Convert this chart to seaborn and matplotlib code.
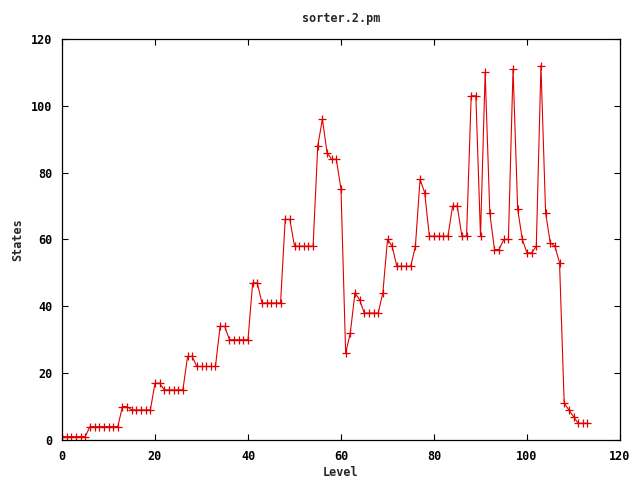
import matplotlib
matplotlib.use('Agg')
import matplotlib.pyplot as plt
import pandas as pd
import seaborn as sns

# Number of states per level
levels = list(range(0, 114))
states = [
    1, 1, 1, 1, 1, 1,                      # 0-5
    4, 4, 4, 4, 4, 4, 4,                   # 6-12
    10, 10, 9, 9, 9, 9, 9,                 # 13-19
    17, 17, 15, 15, 15, 15, 15,            # 20-26
    25, 25, 22, 22, 22, 22, 22,            # 27-33
    34, 34, 30, 30, 30, 30, 30,            # 34-40
    47, 47, 41, 41, 41, 41, 41,            # 41-47
    66, 66, 58, 58, 58, 58, 58,            # 48-54
    88, 96, 86, 84, 84, 75, 26,            # 55-61
    32, 44, 42, 38, 38, 38, 38,            # 62-68
    44, 60, 58, 52, 52, 52, 52,            # 69-75
    58, 78, 74, 61, 61, 61, 61,            # 76-82
    61, 70, 70, 61, 61, 103, 103,          # 83-89
    61, 110, 68, 57, 57, 60, 60,           # 90-96
    111, 69, 60, 56, 56, 58, 112,          # 97-103
    68, 59, 58, 53, 11, 9, 7,              # 104-110
    5, 5, 5,                               # 111-113
]

df = pd.DataFrame({'Level': levels, 'States': states})

sns.set_style('ticks')
plt.rcParams['font.family'] = ['DejaVu Sans Mono']
plt.rcParams['font.weight'] = 'bold'
plt.rcParams['font.size'] = 8.5

fig = plt.figure(figsize=(6.4, 4.8), dpi=100)
ax = fig.add_axes([62 / 640, 40 / 480, 558 / 640, 401 / 480])

sns.lineplot(data=df, x='Level', y='States', ax=ax, color='#e00000',
             linewidth=0.8, marker='+', markersize=6, markeredgewidth=0.9,
             markeredgecolor='#e00000')

ax.set_xlim(0, 120)
ax.set_ylim(0, 120)
ax.set_xticks(range(0, 121, 20))
ax.set_yticks(range(0, 121, 20))
ax.tick_params(direction='in', top=True, right=True, length=4,
               width=0.8, labelsize=8.5, pad=7, colors='black')
for spine in ax.spines.values():
    spine.set_visible(True)
    spine.set_color('black')
    spine.set_linewidth(0.9)

ax.set_title('sorter.2.pm', fontsize=8.5, fontweight='bold', pad=12)
ax.set_xlabel('Level', fontsize=8.5, fontweight='bold', labelpad=2)
ax.set_ylabel('States', fontsize=8.5, fontweight='bold', labelpad=5)

fig.savefig('out.png', dpi=100)
